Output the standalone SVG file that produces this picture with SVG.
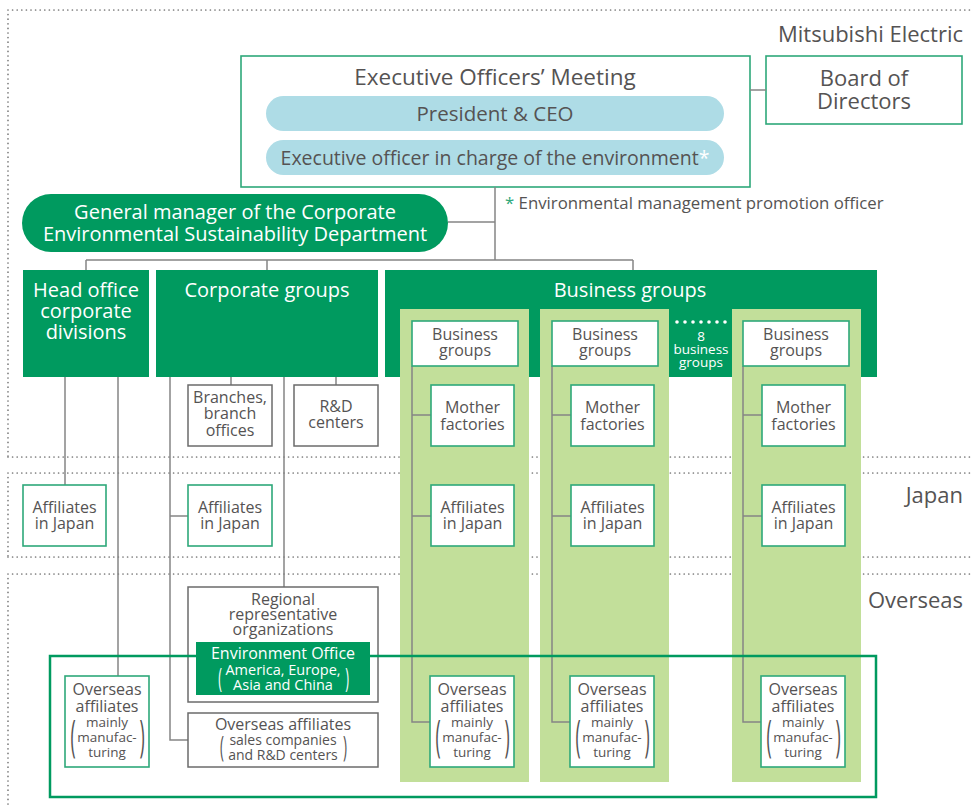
<svg xmlns="http://www.w3.org/2000/svg" width="973" height="805" viewBox="0 0 973 805">
<style>
text{font-family:"Open Sans","Liberation Sans",sans-serif;fill:#555353;text-anchor:middle}
.dot{fill:none;stroke:#7a7a7a;stroke-width:1.7;stroke-dasharray:0 4.6;stroke-linecap:round}
.hdr{fill:#009a5f}
.col{fill:#c2df9a}
.gb{fill:#fff;stroke:#2ea87a;stroke-width:1.6}
.gy{fill:#fff;stroke:#6b6b6b;stroke-width:1.5}
.ln{fill:none;stroke:#858585;stroke-width:1.5}
.w{fill:#fff}
.big{font-size:22px}
.hd{font-size:20px}
.sm{font-size:16px}
.xs{font-size:13.5px}
.r{text-anchor:end}
.par{font-size:44px}
</style>
<g id="regions">
<path class="dot" d="M8,10H973M8,10V457M8,457H973"/>
<path class="dot" d="M8,473H973M8,473V557M8,557H973"/>
<path class="dot" d="M8,574H973M8,574V805"/>
<text class="big r" x="963" y="42">Mitsubishi Electric</text>
<text class="big r" x="963" y="503">Japan</text>
<text class="big r" x="963" y="608">Overseas</text>
</g>
<g id="exec-meeting">
<rect x="241" y="56" width="509" height="131" fill="#fff" stroke="#2ea87a" stroke-width="1.6"/>
<text x="495" y="85" font-size="22.5">Executive Officers’ Meeting</text>
</g>
<g id="president">
<rect x="266" y="96" width="458" height="35" rx="17.5" fill="#aedce6"/>
<text x="495" y="121" font-size="20.5">President &amp; CEO</text>
</g>
<g id="env-officer">
<rect x="266" y="140" width="458" height="35" rx="17.5" fill="#aedce6"/>
<text x="495" y="165" font-size="19.5">Executive officer in charge of the environment<tspan fill="#fff">*</tspan></text>
</g>
<g id="board">
<rect x="766" y="56" width="196" height="68" fill="#fff" stroke="#2ea87a" stroke-width="1.6"/>
<text class="big" x="864" y="86">Board of</text>
<text class="big" x="864" y="109">Directors</text>
</g>
<g id="footnote">
<text x="505" y="209" font-size="16.8" style="text-anchor:start"><tspan fill="#2ea87a">*</tspan> Environmental management promotion officer</text>
</g>
<g id="gm">
<rect x="22" y="194" width="426" height="58" rx="29" class="hdr"/>
<text class="hd w" x="235" y="219">General manager of the Corporate</text>
<text class="hd w" x="235" y="241">Environmental Sustainability Department</text>
</g>
<g id="head-office">
<rect x="23" y="270" width="126" height="107" class="hdr"/>
<text class="hd w" x="86" y="297">Head office</text>
<text class="hd w" x="86" y="318">corporate</text>
<text class="hd w" x="86" y="339">divisions</text>
</g>
<g id="corporate-groups">
<rect x="156" y="270" width="222" height="107" class="hdr"/>
<text class="hd w" x="267" y="297">Corporate groups</text>
</g>
<g id="business-groups">
<rect x="385" y="270" width="492" height="107" class="hdr"/>
<text class="hd w" x="630" y="297">Business groups</text>
<rect x="400" y="309" width="129" height="473" class="col"/>
<rect x="540" y="309" width="129" height="473" class="col"/>
<rect x="732" y="309" width="129" height="473" class="col"/>
<g fill="#fff"><circle cx="677" cy="322" r="1.8"/><circle cx="685" cy="322" r="1.8"/><circle cx="693" cy="322" r="1.8"/><circle cx="701" cy="322" r="1.8"/><circle cx="709" cy="322" r="1.8"/><circle cx="717" cy="322" r="1.8"/><circle cx="725" cy="322" r="1.8"/></g>
<text class="xs w" x="701" y="341">8</text>
<text class="xs w" x="701" y="354">business</text>
<text class="xs w" x="701" y="367">groups</text>
</g>
<g id="connectors">
<path class="ln" d="M750,90H766M495,187V260M448,222H495M86,260H633M86,260V270M267,260V270M633,260V270"/>
<path class="ln" d="M65,377V485M118,377V676"/>
<path class="ln" d="M170,377V740H188M170,516H188M231,377V385M336,377V385M284,377V587"/>
<path class="ln" d="M412,366V722H430M412,415H431M412,516H431"/>
<path class="ln" d="M552,366V722H570M552,415H571M552,516H571"/>
<path class="ln" d="M743,366V722H761M743,415H762M743,516H762"/>
</g>
<g id="ho-affiliates-japan">
<rect x="23" y="485" width="83" height="61" class="gb"/>
<text class="sm" x="64.5" y="513">Affiliates</text>
<text class="sm" x="64.5" y="529">in Japan</text>
</g>
<g id="ho-overseas-affiliates">
<rect x="65" y="676" width="84" height="91" class="gb"/>
<text class="sm" x="107" y="695">Overseas</text>
<text class="sm" x="107" y="712">affiliates</text>
<text class="xs" x="107" y="727">mainly</text>
<text class="xs" x="107" y="742">manufac-</text>
<text class="xs" x="107" y="757">turing</text>
<text class="par" transform="translate(73,751) scale(0.4,1)">(</text>
<text class="par" transform="translate(142,751) scale(0.4,1)">)</text>
</g>
<g id="branches">
<rect x="188" y="385" width="84" height="61" class="gy"/>
<text class="sm" x="230" y="403">Branches,</text>
<text class="sm" x="230" y="419">branch</text>
<text class="sm" x="230" y="436">offices</text>
</g>
<g id="rd-centers">
<rect x="294" y="385" width="84" height="61" class="gy"/>
<text class="sm" x="336" y="412">R&amp;D</text>
<text class="sm" x="336" y="428">centers</text>
</g>
<g id="cg-affiliates-japan">
<rect x="188" y="485" width="84" height="61" class="gb"/>
<text class="sm" x="230" y="513">Affiliates</text>
<text class="sm" x="230" y="529">in Japan</text>
</g>
<g id="regional">
<rect x="188" y="587" width="190" height="115" class="gy"/>
<text class="sm" x="283" y="605">Regional</text>
<text class="sm" x="283" y="620">representative</text>
<text class="sm" x="283" y="635">organizations</text>
</g>
<g id="cg-overseas-affiliates">
<rect x="188" y="713" width="190" height="54" class="gy"/>
<text class="sm" x="283" y="730">Overseas affiliates</text>
<text x="283" y="745" font-size="14">sales companies</text>
<text x="283" y="760" font-size="14">and R&amp;D centers</text>
<text font-size="30" transform="translate(222,757) scale(0.45,1)">(</text>
<text font-size="30" transform="translate(345,757) scale(0.45,1)">)</text>
</g>
<g id="bg1">
<rect x="412" y="321" width="106" height="45" class="gb"/>
<text class="sm" x="465" y="340">Business</text>
<text class="sm" x="465" y="356">groups</text>
</g>
<g id="mf1">
<rect x="431" y="385" width="83" height="61" class="gb"/>
<text class="sm" x="472.5" y="413">Mother</text>
<text class="sm" x="472.5" y="430">factories</text>
</g>
<g id="aj1">
<rect x="431" y="485" width="83" height="61" class="gb"/>
<text class="sm" x="472.5" y="513">Affiliates</text>
<text class="sm" x="472.5" y="529">in Japan</text>
</g>
<g id="oa1">
<rect x="430" y="676" width="84" height="91" class="gb"/>
<text class="sm" x="472" y="695">Overseas</text>
<text class="sm" x="472" y="712">affiliates</text>
<text class="xs" x="472" y="727">mainly</text>
<text class="xs" x="472" y="742">manufac-</text>
<text class="xs" x="472" y="757">turing</text>
<text class="par" transform="translate(438,751) scale(0.4,1)">(</text>
<text class="par" transform="translate(507,751) scale(0.4,1)">)</text>
</g>
<g id="bg2">
<rect x="552" y="321" width="106" height="45" class="gb"/>
<text class="sm" x="605" y="340">Business</text>
<text class="sm" x="605" y="356">groups</text>
</g>
<g id="mf2">
<rect x="571" y="385" width="83" height="61" class="gb"/>
<text class="sm" x="612.5" y="413">Mother</text>
<text class="sm" x="612.5" y="430">factories</text>
</g>
<g id="aj2">
<rect x="571" y="485" width="83" height="61" class="gb"/>
<text class="sm" x="612.5" y="513">Affiliates</text>
<text class="sm" x="612.5" y="529">in Japan</text>
</g>
<g id="oa2">
<rect x="570" y="676" width="84" height="91" class="gb"/>
<text class="sm" x="612" y="695">Overseas</text>
<text class="sm" x="612" y="712">affiliates</text>
<text class="xs" x="612" y="727">mainly</text>
<text class="xs" x="612" y="742">manufac-</text>
<text class="xs" x="612" y="757">turing</text>
<text class="par" transform="translate(578,751) scale(0.4,1)">(</text>
<text class="par" transform="translate(647,751) scale(0.4,1)">)</text>
</g>
<g id="bg3">
<rect x="743" y="321" width="106" height="45" class="gb"/>
<text class="sm" x="796" y="340">Business</text>
<text class="sm" x="796" y="356">groups</text>
</g>
<g id="mf3">
<rect x="762" y="385" width="83" height="61" class="gb"/>
<text class="sm" x="803.5" y="413">Mother</text>
<text class="sm" x="803.5" y="430">factories</text>
</g>
<g id="aj3">
<rect x="762" y="485" width="83" height="61" class="gb"/>
<text class="sm" x="803.5" y="513">Affiliates</text>
<text class="sm" x="803.5" y="529">in Japan</text>
</g>
<g id="oa3">
<rect x="761" y="676" width="84" height="91" class="gb"/>
<text class="sm" x="803" y="695">Overseas</text>
<text class="sm" x="803" y="712">affiliates</text>
<text class="xs" x="803" y="727">mainly</text>
<text class="xs" x="803" y="742">manufac-</text>
<text class="xs" x="803" y="757">turing</text>
<text class="par" transform="translate(769,751) scale(0.4,1)">(</text>
<text class="par" transform="translate(838,751) scale(0.4,1)">)</text>
</g>
<g id="overseas-frame">
<rect x="50" y="656" width="826" height="141" fill="none" stroke="#009a5f" stroke-width="2.5"/>
</g>
<g id="environment-office">
<rect x="196" y="642" width="174" height="53" class="hdr"/>
<text class="sm w" x="283" y="659">Environment Office</text>
<text class="w" x="283" y="675" font-size="14.5">America, Europe,</text>
<text class="w" x="283" y="690" font-size="14.5">Asia and China</text>
<text class="w" font-size="28" transform="translate(220,688) scale(0.45,1)">(</text>
<text class="w" font-size="28" transform="translate(347,688) scale(0.45,1)">)</text>
</g>
</svg>
